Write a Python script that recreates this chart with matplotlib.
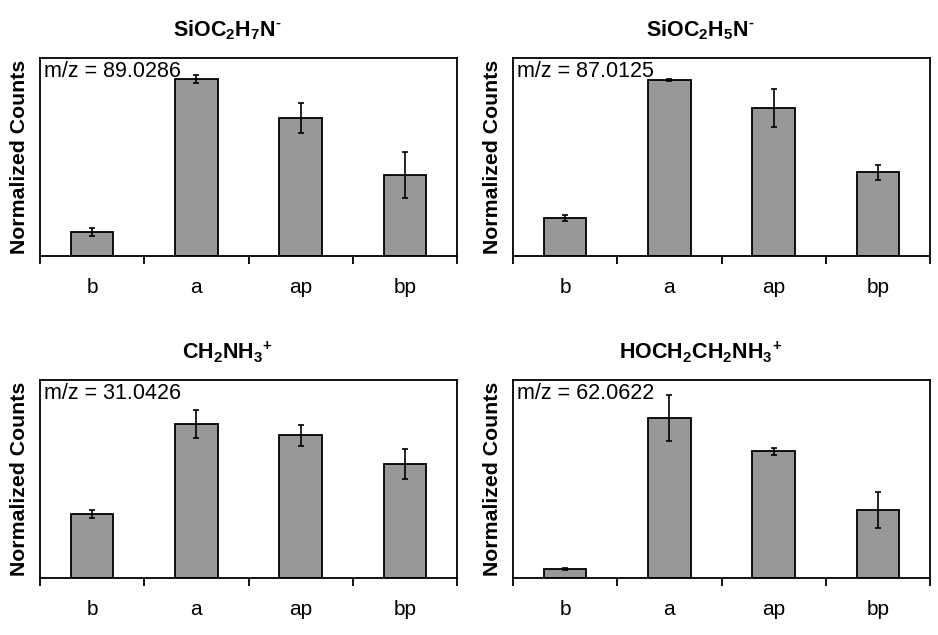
import numpy as np
import matplotlib.pyplot as plt
from matplotlib.ticker import FixedLocator

plt.rcParams['font.family'] = ['Liberation Sans', 'DejaVu Sans']
plt.rcParams['mathtext.fontset'] = 'custom'
plt.rcParams['mathtext.rm'] = 'Liberation Sans:bold'
plt.rcParams['mathtext.bf'] = 'Liberation Sans:bold'
plt.rcParams['mathtext.it'] = 'Liberation Sans:bold'

categories = ['b', 'a', 'ap', 'bp']

titles = [r'SiOC$_2$H$_7$N$^{\text{-}}$', r'SiOC$_2$H$_5$N$^{\text{-}}$',
          r'CH$_2$NH$_3$$^{+}$', r'HOCH$_2$CH$_2$NH$_3$$^{+}$']
masses = ['m/z = 89.0286', 'm/z = 87.0125', 'm/z = 31.0426', 'm/z = 62.0622']

# normalized counts (axis top = 1)
vals_sioc2h7n = [0.121, 0.894, 0.697, 0.409]
errs_sioc2h7n = [0.020, 0.020, 0.076, 0.116]
vals_sioc2h5n = [0.192, 0.889, 0.747, 0.424]
errs_sioc2h5n = [0.015, 0.004, 0.098, 0.038]
vals_ch2nh3 = [0.323, 0.778, 0.722, 0.576]
errs_ch2nh3 = [0.020, 0.070, 0.053, 0.076]
vals_hoch = [0.045, 0.808, 0.641, 0.343]
errs_hoch = [0.005, 0.114, 0.018, 0.091]

values = [vals_sioc2h7n, vals_sioc2h5n, vals_ch2nh3, vals_hoch]
errors = [errs_sioc2h7n, errs_sioc2h5n, errs_ch2nh3, errs_hoch]

fig = plt.figure(figsize=(9.38, 6.35), dpi=100)
W, H = 938, 635
posities = [(40, 256), (513, 256), (40, 578), (513, 578)]  # linkerkant, onderkant in pixels

x = np.arange(len(categories))
for i in range(4):
    left, bottom = posities[i]
    ax = fig.add_axes([left / W, (H - bottom) / H, 417 / W, 198 / H])
    ax.bar(x, values[i], width=0.41, color='#989898', edgecolor='black', linewidth=1.3,
           yerr=errors[i], error_kw=dict(ecolor='black', elinewidth=1.2, capsize=2.5, capthick=1.2))
    ax.set_xlim(-0.5, 3.5)
    ax.set_ylim(0, 1)
    ax.set_yticks([])
    ax.set_xticks(x)
    ax.set_xticklabels(categories, fontsize=15)
    ax.tick_params(axis='x', which='major', length=0, pad=16)
    ax.xaxis.set_minor_locator(FixedLocator([-0.5, 0.5, 1.5, 2.5, 3.5]))
    ax.tick_params(axis='x', which='minor', length=5.5, width=1.3, direction='out')
    for s in ax.spines.values():
        s.set_linewidth(1.3)
    ax.set_ylabel('Normalized Counts', fontsize=15.3, fontweight='bold')
    ax.yaxis.set_label_coords(-0.026, 0.5)
    ax.text(0.01, 0.93, masses[i], transform=ax.transAxes, fontsize=15.5, va='center', ha='left')
    ax.text(0.45, 1.14, titles[i], transform=ax.transAxes, fontsize=15.5, fontweight='bold',
            ha='center', va='center')

fig.savefig('out.png', dpi=100)
